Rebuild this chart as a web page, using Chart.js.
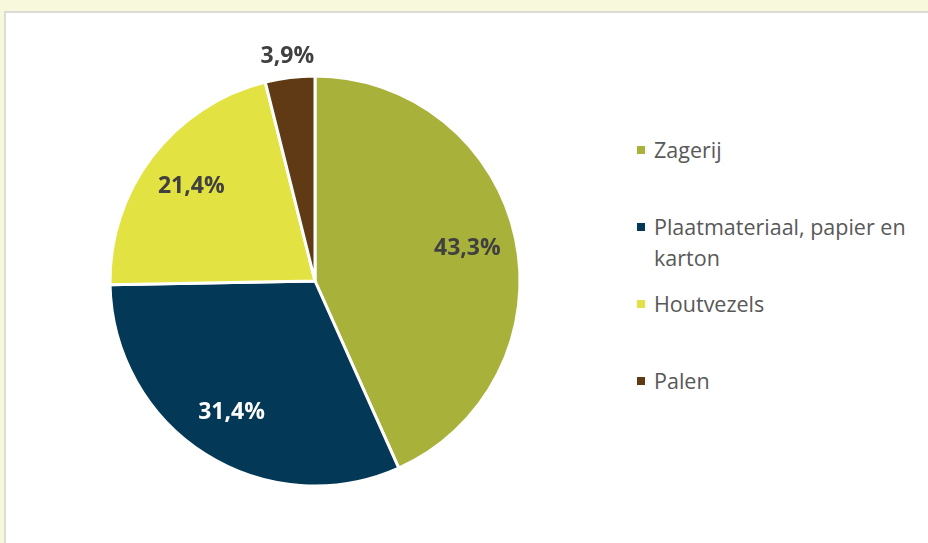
<!DOCTYPE html>
<html>
<head>
<meta charset="utf-8">
<script src="https://cdn.jsdelivr.net/npm/chart.js@4/dist/chart.umd.min.js"></script>
<style>
    html, body { margin: 0; padding: 0; }
    body {
        width: 928px;
        height: 543px;
        background: #f7f8dc;
        overflow: hidden;
        position: relative;
        font-family: 'Open Sans', 'Noto Sans', sans-serif;
    }
    #panel {
        position: absolute;
        left: 4px;
        top: 11px;
        width: 940px;
        height: 560px;
        background: #fff;
        border-left: 2px solid #dcdcd6;
        border-top: 2px solid #dcdcd6;
    }
    #chart-wrap {
        position: absolute;
        left: 65px;
        top: 31px;
        width: 500px;
        height: 500px;
    }
    #legend {
        position: absolute;
        left: 637px;
        top: 134px;
        margin: 0;
        padding: 0;
        list-style: none;
    }
    #legend li {
        height: 77px;
        display: flex;
        align-items: flex-start;
        color: #585858;
        font-size: 21.5px;
        line-height: 31px;
    }
    #legend .box {
        width: 8px;
        height: 8px;
        margin-top: 12px;
        margin-right: 9px;
        flex: none;
    }
</style>
</head>
<body>
<div id="panel"></div>
<div id="chart-wrap"><canvas id="chart-pie"></canvas></div>
<ul id="legend"></ul>

<script>
const categories = ['Zagerij', ['Plaatmateriaal, papier en', 'karton'], 'Houtvezels', 'Palen'];
const shares = [43.3, 31.4, 21.4, 3.9];
const sliceColors = ['#a8b23a', '#033956', '#e2e342', '#5f3a15'];
const labelColors = ['#404040', '#ffffff', '#404040', '#404040'];

// draws the percentage inside each slice, small ones just outside
const sliceLabels = {
    id: 'sliceLabels',
    afterDatasetsDraw(chart) {
        const ctx = chart.ctx;
        const meta = chart.getDatasetMeta(0);
        const values = chart.data.datasets[0].data;
        ctx.save();
        ctx.font = 'bold 23px "Open Sans", "Noto Sans", sans-serif';
        ctx.textAlign = 'center';
        ctx.textBaseline = 'middle';
        meta.data.forEach((arc, i) => {
            const { x, y, startAngle, endAngle, outerRadius } = arc.getProps(['x', 'y', 'startAngle', 'endAngle', 'outerRadius'], true);
            const mid = (startAngle + endAngle) / 2;
            const small = values[i] < 5;
            const dist = small ? outerRadius + 21 : outerRadius * 0.76;
            const text = values[i].toFixed(1).replace('.', ',') + '%';
            ctx.fillStyle = small ? '#404040' : labelColors[i];
            ctx.fillText(text, x + Math.cos(mid) * dist, y + Math.sin(mid) * dist);
        });
        ctx.restore();
    }
};

new Chart(document.getElementById('chart-pie'), {
    type: 'pie',
    data: {
        labels: categories,
        datasets: [{
            data: shares,
            backgroundColor: sliceColors,
            borderColor: '#ffffff',
            borderWidth: 3
        }]
    },
    options: {
        responsive: true,
        maintainAspectRatio: false,
        animation: false,
        radius: 205,
        plugins: {
            legend: { display: false },
            tooltip: { enabled: false }
        }
    },
    plugins: [sliceLabels]
});

const legend = document.getElementById('legend');
categories.forEach((c, i) => {
    const li = document.createElement('li');
    const text = Array.isArray(c) ? c.join('<br>') : c;
    li.innerHTML = `<span class="box" style="background:${sliceColors[i]}"></span><span>${text}</span>`;
    legend.appendChild(li);
});
</script>
</body>
</html>
